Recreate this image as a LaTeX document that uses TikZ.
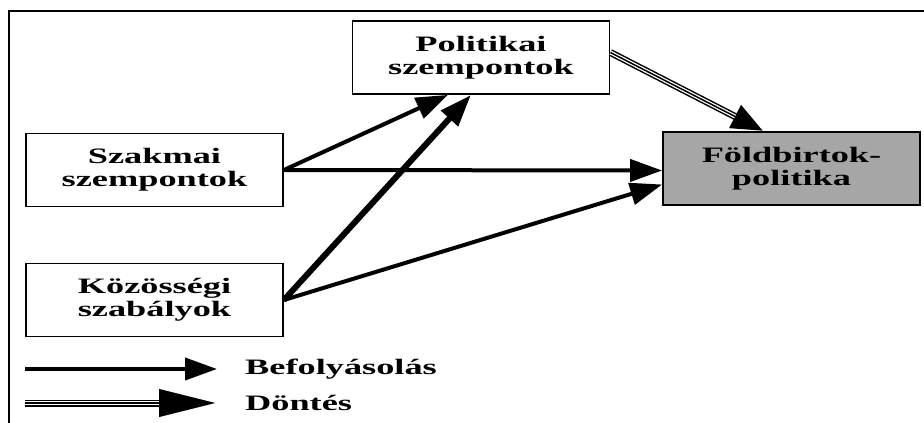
\documentclass[tikz,border=0pt]{standalone}
\usepackage{fontspec}
\setmainfont{Liberation Serif}[FakeStretch=1.65]
\usepackage{xcolor}
\usepackage{tikz}
\usetikzlibrary{positioning,arrows.meta}
\definecolor{boxgray}{HTML}{A6A6A6}

\begin{document}
\begin{tikzpicture}[x=1pt,y=-1pt,
  box/.style={draw,line width=1.8pt,minimum width=257pt,minimum height=73pt,inner sep=0pt,
    align=center,font=\fontsize{22}{23}\selectfont\bfseries},
  befoly/.style={line width=4pt,-{Triangle[length=32pt,width=22pt]}},
  dontes/.style={line width=7pt,-{Triangle[length=#1,width=24pt]},
    postaction={draw,-,white,line width=4pt,shorten >=#1},
    postaction={draw,-,black,line width=1.5pt,shorten >=#1}},
  legtext/.style={anchor=west,inner sep=0pt,font=\fontsize{22}{23}\selectfont\bfseries}]

\useasboundingbox (0,0) rectangle (924,423);
\draw[line width=2pt] (9,423) -- (9,11) -- (924,11);

\node[box] (pol) at (481,57.5) {Politikai\\szempontok};
\node[box] (szak) at (154.5,170) {Szakmai\\szempontok};
\node[box] (kozos) at (154.5,300) {Közösségi\\szabályok};
\node[box,fill=boxgray] (fold) at (791.5,168.5) {Földbirtok-\\politika};

\draw[befoly] (szak.east) -- ([xshift=-33pt]pol.south);
\draw[befoly,line width=6pt] (kozos.east) -- ([xshift=-10pt]pol.south);
\draw[befoly] (szak.east) -- ([yshift=-2pt]fold.west);
\draw[befoly] (kozos.east) -- ([yshift=-16pt]fold.west);
\draw[dontes=32pt] ([yshift=5pt]pol.east) -- ([xshift=-28pt]fold.north);

% jelmagyarazat
\coordinate (b1) at (25,369);
\coordinate (b2) at (217,369);
\coordinate (d1) at (25,403);
\coordinate (d2) at (217,403);
\draw[befoly] (b1) -- (b2);
\draw[dontes=58pt,-{Triangle[length=58pt,width=26pt]}] (d1) -- (d2);
\node[legtext] (befolyt) at (245,369) {Befolyásolás};
\node[legtext] (dontest) at (245,403) {Döntés};

\end{tikzpicture}
\end{document}
